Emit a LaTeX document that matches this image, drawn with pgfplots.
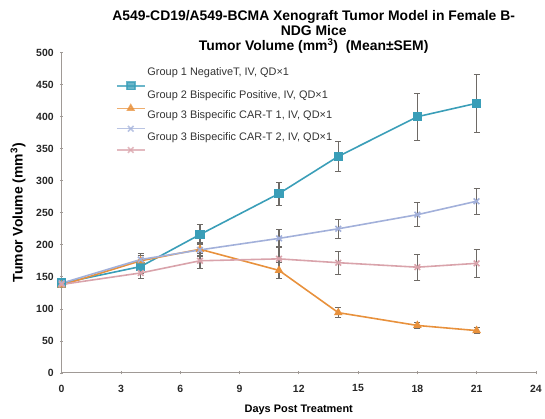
\documentclass[border=0pt]{standalone}
\usepackage{pgfplots}
\pgfplotsset{compat=1.18}
\usepackage{fontspec}
\setmainfont{Liberation Sans}
\definecolor{cteal}{HTML}{3A9EB8}
\definecolor{corange}{HTML}{E8913C}
\definecolor{cblue}{HTML}{A2B0DA}
\definecolor{cpink}{HTML}{D9A3AB}
\definecolor{cerr}{HTML}{6E6A66}
\definecolor{caxis}{HTML}{A09A96}
\begin{document}
\begin{tikzpicture}
\begin{axis}[
  scale only axis, width=477pt, height=322pt,
  xmin=0, xmax=24, ymin=0, ymax=500,
  xtick={0,3,...,24}, ytick={0,50,...,500},
  axis lines=left, axis line style={caxis, line width=0.8pt, -},
  tick style={caxis, line width=0.6pt}, major tick length=3pt,
  tick label style={font=\fontsize{10.5}{12}\selectfont\bfseries, text=black!85},
  yticklabel style={xshift=-3pt},
  xticklabel style={yshift=-7pt},
  /pgf/number format/assume math mode=true,
  xlabel={\bfseries Days Post Treatment},
  ylabel={\bfseries Tumor Volume (mm\textsuperscript{3})},
  xlabel style={font=\fontsize{11}{13}\selectfont, yshift=-6pt},
  ylabel style={font=\fontsize{14}{16}\selectfont, yshift=4pt},
  title={\bfseries A549-CD19/A549-BCMA Xenograft Tumor Model in Female B-\\\bfseries NDG Mice\\\bfseries Tumor Volume (mm\textsuperscript{3}) \ (Mean\textpm SEM)},
  title style={align=center, font=\fontsize{14}{15}\selectfont, yshift=-10pt, xshift=15pt},
  legend style={draw=none, fill=none, at={(0.108,0.965)}, anchor=north west,
    font=\fontsize{11}{13}\selectfont, row sep=-1pt, text=black!80},
  legend cell align=left,
  legend image post style={yshift=-13pt},
  legend image code/.code={\draw[#1, opacity=0.75] (0pt,0pt) -- (28pt,0pt); \draw[#1, only marks, opacity=0.75] plot coordinates {(14pt,0pt)};},
  error bars/error bar style={cerr, line width=1.1pt},
  error bars/error mark options={rotate=90, mark size=3pt, cerr, line width=0.9pt},
  clip=false,
]
\addplot+[cteal, line width=1.6pt, mark=square*, mark size=4pt, mark options={fill=cteal, draw=cteal},
  error bars/.cd, y dir=both, y explicit]
  coordinates {(0,140) +- (0,4) (4,166) +- (0,10) (7,216) +- (0,15) (11,280) +- (0,18) (14,338) +- (0,24) (18,400) +- (0,37) (21,421) +- (0,45)};
\addlegendentry{Group 1 NegativeT, IV, QD\texttimes 1}
\addplot+[corange, line width=1.6pt, mark=triangle*, mark size=3.5pt, mark options={fill=corange, draw=corange},
  error bars/.cd, y dir=both, y explicit]
  coordinates {(0,137) +- (0,3) (4,175) +- (0,8) (7,193) +- (0,10) (11,160) +- (0,12) (14,94) +- (0,8) (18,74) +- (0,5) (21,66) +- (0,5)};
\addlegendentry{Group 2 Bispecific Positive, IV, QD\texttimes 1}
\addplot+[cblue, line width=1.6pt, mark=x, mark size=4pt, mark options={draw=cblue},
  error bars/.cd, y dir=both, y explicit]
  coordinates {(0,140) +- (0,3) (4,177) +- (0,10) (7,192) +- (0,10) (11,210) +- (0,14) (14,225) +- (0,15) (18,247) +- (0,19) (21,268) +- (0,20)};
\addlegendentry{Group 3 Bispecific CAR-T 1, IV, QD\texttimes 1}
\addplot+[cpink, line width=1.6pt, mark=x, mark size=4pt, mark options={draw=cpink},
  error bars/.cd, y dir=both, y explicit]
  coordinates {(0,138) +- (0,3) (4,156) +- (0,8) (7,175) +- (0,12) (11,178) +- (0,20) (14,172) +- (0,18) (18,165) +- (0,20) (21,171) +- (0,22)};
\addlegendentry{Group 3 Bispecific CAR-T 2, IV, QD\texttimes 1}
\end{axis}
\path (current axis.south west) ++(-62pt,-38pt) coordinate (bbsw);
\path (current axis.north east) ++(6pt,53pt) coordinate (bbne);
\useasboundingbox (bbsw) rectangle (bbne);
\end{tikzpicture}
\end{document}
